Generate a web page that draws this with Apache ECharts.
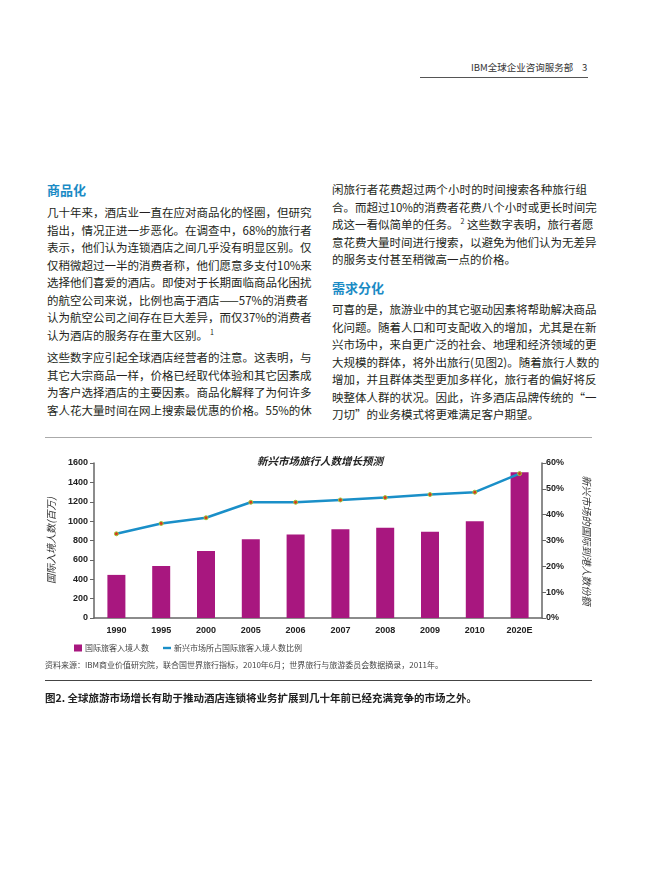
<!DOCTYPE html>
<html>
<head>
<meta charset="utf-8">
<script src="https://cdn.jsdelivr.net/npm/echarts@6/dist/echarts.min.js"></script>
<style>
  body { margin: 0; background: #fff; }
  #page { position: relative; width: 650px; height: 882px; overflow: hidden;
          font-family: "Noto Sans CJK SC", "Liberation Sans", sans-serif; color: #231f20; }
  .abs { position: absolute; }
  .para { position: absolute; width: 255px; font-size: 11.5px; line-height: 17.5px; }
  .para div { text-align: justify; text-align-last: justify; white-space: nowrap; }
  .para div.last { text-align-last: left; }
  .para sup { font-size: 7px; line-height: 0; vertical-align: 5px; margin-left: 2px; }
  .head { position: absolute; font-size: 13px; font-weight: bold; color: #1b8bc5; line-height: 16px; }
  .rule { position: absolute; height: 0; }
</style>
</head>
<body>
<div id="page">
  <div class="abs" style="left:471px;top:61px;font-size:9.5px;line-height:12px;color:#333;">IBM全球企业咨询服务部</div>
  <div class="abs" style="left:582px;top:61px;font-size:9.5px;line-height:12px;color:#333;">3</div>
  <div class="rule" style="left:420px;top:77px;width:168px;border-top:1px solid #555;"></div>

  <div class="head" style="left:47px;top:182px;">商品化</div>
  <div class="para" style="left:47px;top:204px;">
    <div>几十年来，酒店业一直在应对商品化的怪圈，但研究</div>
    <div>指出，情况正进一步恶化。在调查中，68%的旅行者</div>
    <div>表示，他们认为连锁酒店之间几乎没有明显区别。仅</div>
    <div>仅稍微超过一半的消费者称，他们愿意多支付10%来</div>
    <div>选择他们喜爱的酒店。即使对于长期面临商品化困扰</div>
    <div>的航空公司来说，比例也高于酒店——57%的消费者</div>
    <div>认为航空公司之间存在巨大差异，而仅37%的消费者</div>
    <div class="last">认为酒店的服务存在重大区别。<sup>1</sup></div>
  </div>
  <div class="para" style="left:47px;top:349px;">
    <div>这些数字应引起全球酒店经营者的注意。这表明，与</div>
    <div>其它大宗商品一样，价格已经取代体验和其它因素成</div>
    <div>为客户选择酒店的主要因素。商品化解释了为何许多</div>
    <div>客人花大量时间在网上搜索最优惠的价格。55%的休</div>
  </div>

  <div class="para" style="left:332px;top:181px;">
    <div>闲旅行者花费超过两个小时的时间搜索各种旅行组</div>
    <div>合。而超过10%的消费者花费八个小时或更长时间完</div>
    <div>成这一看似简单的任务。<sup>2</sup> 这些数字表明，旅行者愿</div>
    <div>意花费大量时间进行搜索，以避免为他们认为无差异</div>
    <div class="last">的服务支付甚至稍微高一点的价格。</div>
  </div>
  <div class="head" style="left:332px;top:280px;">需求分化</div>
  <div class="para" style="left:332px;top:301px;">
    <div>可喜的是，旅游业中的其它驱动因素将帮助解决商品</div>
    <div>化问题。随着人口和可支配收入的增加，尤其是在新</div>
    <div>兴市场中，来自更广泛的社会、地理和经济领域的更</div>
    <div>大规模的群体，将外出旅行(见图2)。随着旅行人数的</div>
    <div>增加，并且群体类型更加多样化，旅行者的偏好将反</div>
    <div>映整体人群的状况。因此，许多酒店品牌传统的“一</div>
    <div class="last">刀切”的业务模式将更难满足客户期望。</div>
  </div>

  <div class="rule" style="left:45px;top:437px;width:547px;border-top:1.5px solid #aaa;"></div>

  <div id="chart" class="abs" style="left:0;top:440px;width:650px;height:220px;"></div>

  <div class="abs" style="left:45px;top:659px;font-size:8px;line-height:11px;color:#444;">资料来源：IBM商业价值研究院，联合国世界旅行指标，2010年6月；世界旅行与旅游委员会数据摘录，2011年。</div>
  <div class="rule" style="left:45px;top:680px;width:547px;border-top:1px solid #444;"></div>
  <div class="abs" style="left:45px;top:691px;font-size:10.5px;line-height:14px;font-weight:bold;color:#222;">图2. 全球旅游市场增长有助于推动酒店连锁将业务扩展到几十年前已经充满竞争的市场之外。</div>
</div>

<script>
var years = ["1990", "1995", "2000", "2005", "2006", "2007", "2008", "2009", "2010", "2020E"];
var arrivals = [445, 538, 692, 812, 863, 915, 932, 891, 1000, 1504];
var emergingShare = [32.6, 36.6, 38.8, 44.8, 44.8, 45.7, 46.6, 47.8, 48.7, 55.9];
var leftTicks = [0, 1600, 200];
var rightTicks = [0, 60, 10];

var chartDom = document.getElementById("chart");
var myChart = echarts.init(chartDom);
var option;

var axisFont = {
  fontFamily: "Liberation Sans",
  fontWeight: "bold",
  fontSize: 9,
  color: "#222",
};

option = {
  animation: false,
  textStyle: { fontFamily: "Noto Sans CJK SC" },
  title: {
    text: "新兴市场旅行人数增长预测",
    left: 252,
    top: 11,
    textStyle: { fontSize: 10.5, fontWeight: "bold", fontStyle: "italic", color: "#222" },
  },
  legend: {
    left: 69,
    top: 199,
    itemWidth: 8,
    itemHeight: 7,
    itemGap: 14,
    textStyle: { fontSize: 8, color: "#444", padding: [0, 0, 0, -2] },
    data: [
      { name: "国际旅客入境人数", icon: "rect" },
      {
        name: "新兴市场所占国际旅客入境人数比例",
        icon: "path://M0,0H10V3H0Z",
        itemStyle: { color: "#1a8fc8", borderWidth: 0 },
      },
    ],
  },
  grid: {
    left: 94,
    right: 108,
    top: 23,
    height: 155,
  },
  xAxis: {
    type: "category",
    data: years,
    axisLine: { lineStyle: { color: "#666", width: 1.5 } },
    axisTick: { length: 4, lineStyle: { color: "#666" } },
    axisLabel: Object.assign({ margin: 8 }, axisFont),
  },
  yAxis: [
    {
      type: "value",
      min: leftTicks[0],
      max: leftTicks[1],
      interval: leftTicks[2],
      name: "国际入境人数(百万)",
      nameLocation: "middle",
      nameGap: 38,
      nameRotate: 90,
      nameTextStyle: { fontSize: 10, fontStyle: "italic", color: "#333" },
      splitLine: { show: false },
      axisLine: { show: true, lineStyle: { color: "#666", width: 1.5 } },
      axisTick: { show: true, length: 4, lineStyle: { color: "#666" } },
      axisLabel: Object.assign({
        margin: 6,
        formatter: function (value) {
          return String(value);
        },
      }, axisFont),
    },
    {
      type: "value",
      position: "right",
      min: rightTicks[0],
      max: rightTicks[1],
      interval: rightTicks[2],
      name: "新兴市场的国际到港人数份额",
      nameLocation: "middle",
      nameGap: 40,
      nameRotate: -90,
      nameTextStyle: { fontSize: 10, fontStyle: "italic", color: "#333" },
      splitLine: { show: false },
      axisLine: { show: true, lineStyle: { color: "#666", width: 1.5 } },
      axisTick: { show: true, length: 4, lineStyle: { color: "#666" } },
      axisLabel: Object.assign({ margin: 4, formatter: "{value}%" }, axisFont),
    },
  ],
  series: [
    {
      name: "国际旅客入境人数",
      type: "bar",
      barWidth: 18,
      itemStyle: { color: "#a8177f" },
      data: arrivals,
    },
    {
      name: "新兴市场所占国际旅客入境人数比例",
      type: "line",
      yAxisIndex: 1,
      symbol: "circle",
      symbolSize: 4,
      itemStyle: { color: "#d8391f", borderColor: "#9ccc38", borderWidth: 1 },
      lineStyle: { color: "#1a8fc8", width: 2.5 },
      data: emergingShare,
    },
  ],
};

option && myChart.setOption(option, true);
</script>
</body>
</html>
